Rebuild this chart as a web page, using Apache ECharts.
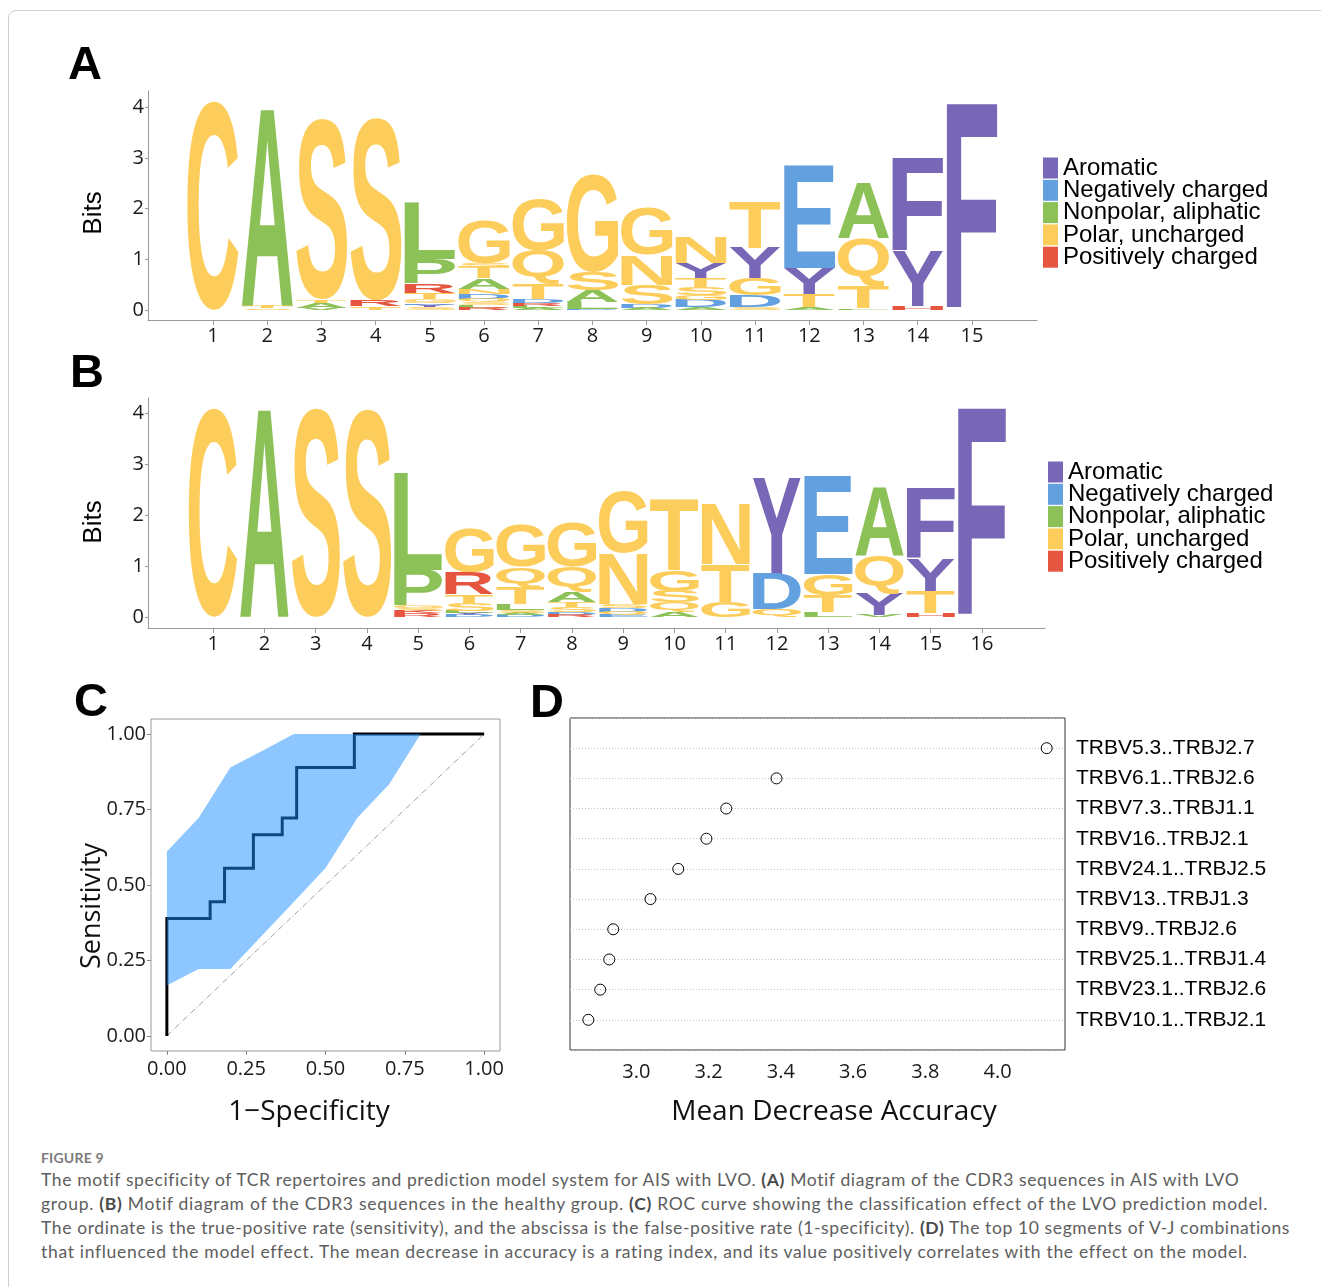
<!DOCTYPE html>
<html><head><meta charset="utf-8">
<script src="https://cdn.jsdelivr.net/npm/echarts@6/dist/echarts.min.js"></script>
<style>
html,body{margin:0;padding:0;background:#fff;}
#frame{position:absolute;left:8px;top:10px;width:1400px;height:1400px;border:1px solid #cfcfcf;border-radius:8px;box-sizing:border-box;}
#chart{position:absolute;left:0;top:0;width:1321px;height:1140px;}
#cap{position:absolute;left:41px;top:1148px;font-family:Lato,"Open Sans",sans-serif;color:#5e5e5e;}
#fig{font-size:14px;font-weight:700;color:#7c7c7c;line-height:20px;height:20px;letter-spacing:0.2px;}
.ln{font-size:17.5px;line-height:24px;white-space:nowrap;}
.ln b{color:#4a4a4a;}
</style></head>
<body>
<div id="frame"></div>
<div id="chart"></div>
<div id="cap">
<div id="fig">FIGURE 9</div>
<div class="ln" data-w="1199">The motif specificity of TCR repertoires and prediction model system for AIS with LVO. <b>(A)</b> Motif diagram of the CDR3 sequences in AIS with LVO</div>
<div class="ln" data-w="1227">group. <b>(B)</b> Motif diagram of the CDR3 sequences in the healthy group. <b>(C)</b> ROC curve showing the classification effect of the LVO prediction model.</div>
<div class="ln" data-w="1250">The ordinate is the true-positive rate (sensitivity), and the abscissa is the false-positive rate (1-specificity). <b>(D)</b> The top 10 segments of V-J combinations</div>
<div class="ln" data-w="1206">that influenced the model effect. The mean decrease in accuracy is a rating index, and its value positively correlates with the effect on the model.</div>
</div>
<script>
// ---------- DATA ----------
const classNames = ['Aromatic','Negatively charged','Nonpolar, aliphatic','Polar, uncharged','Positively charged'];
const classColors = ['#7866B6','#63A0E0','#8BC157','#FDCD5C','#E5553F'];
const letterClass = {F:0,W:0,Y:0,D:1,E:1,A:2,V:2,L:2,I:2,P:2,M:2,G:3,S:3,T:3,C:3,N:3,Q:3,R:4,K:4,H:4};

// Panel A: letters per position (bottom -> top) and their heights in bits
const lettersA = ['C','STA','VATS','TGRS','SYEQGTRPL','RLSQDNATSG','ALRDTQG','DLASG','ADSNG','ADGSTYN','SDGYT','ATYE','LTQA','HYF','F'];
const bitsA = [
  [4.12],
  [0.03,0.04,3.94],
  [0.04,0.1,0.06,3.57],
  [0.04,0.03,0.12,3.6],
  [0.05,0.04,0.03,0.04,0.06,0.12,0.18,0.48,1.11],
  [0.04,0.05,0.06,0.07,0.1,0.09,0.21,0.22,0.08,0.86],
  [0.04,0.04,0.06,0.08,0.3,0.64,1.0],
  [0.02,0.14,0.22,0.36,1.93],
  [0.04,0.08,0.38,0.58,0.94],
  [0.06,0.14,0.1,0.15,0.18,0.3,0.52],
  [0.06,0.22,0.34,0.6,0.92],
  [0.06,0.26,0.5,2.02],
  [0.03,0.43,0.96,1.1],
  [0.08,1.08,1.85],
  [4.07]
];
// Panel B
const lettersB = ['C','A','S','S','RKSGPL','DYLSTRG','DASLTQG','RDSTAQG','EQDSNG','AQSGT','GTN','QDY','LTGE','VYQA','HTYF','F'];
const bitsB = [
  [4.1],
  [4.12],
  [4.1],
  [4.08],
  [0.08,0.04,0.06,0.04,0.7,1.9],
  [0.04,0.04,0.04,0.14,0.18,0.42,0.88],
  [0.04,0.04,0.06,0.12,0.32,0.4,0.82],
  [0.04,0.06,0.1,0.1,0.2,0.48,0.88],
  [0.04,0.06,0.08,0.08,1.0,1.22],
  [0.1,0.18,0.22,0.42,1.4],
  [0.3,0.74,1.2],
  [0.16,0.69,1.88],
  [0.1,0.32,0.42,1.94],
  [0.04,0.42,0.76,1.35],
  [0.07,0.42,0.66,1.38],
  [4.1]
];
const bitsTicks = [0,1,2,3,4];

// Panel C: ROC staircase and confidence band
const rocFpr = [0,0,0.1364,0.1364,0.1818,0.1818,0.2727,0.2727,0.3636,0.3636,0.4091,0.4091,0.5909,0.5909,1.0];
const rocTpr = [0,0.3889,0.3889,0.4444,0.4444,0.5556,0.5556,0.6667,0.6667,0.7222,0.7222,0.8889,0.8889,1.0,1.0];
const bandFpr = [0,0.1,0.2,0.3,0.4,0.5,0.6,0.7,0.8];
const bandUpper = [0.611,0.722,0.889,0.944,1,1,1,1,1];
const bandLower = [0.167,0.222,0.222,0.333,0.444,0.556,0.722,0.833,1];
const diagX = [0,1];
const diagY = [0,1];
const rocTicks = [0,0.25,0.5,0.75,1];

// Panel D: top 10 V-J combinations (top -> bottom)
const vjNames = ['TRBV5.3..TRBJ2.7','TRBV6.1..TRBJ2.6','TRBV7.3..TRBJ1.1','TRBV16..TRBJ2.1','TRBV24.1..TRBJ2.5','TRBV13..TRBJ1.3','TRBV9..TRBJ2.6','TRBV25.1..TRBJ1.4','TRBV23.1..TRBJ2.6','TRBV10.1..TRBJ2.1'];
const vjMDA = [4.136,3.388,3.249,3.194,3.116,3.039,2.936,2.925,2.900,2.867];
const mdaTicks = [3.0,3.2,3.4,3.6,3.8,4.0];

// ---------- LETTER METRICS ----------
const LFONT = 'bold 100px "Liberation Sans"';
const mc = document.createElement('canvas').getContext('2d');
mc.font = LFONT; mc.textBaseline = 'middle'; mc.textAlign = 'left';
const metrics = {};
Object.keys(letterClass).forEach(ch => {
  const m = mc.measureText(ch);
  metrics[ch] = {L:m.actualBoundingBoxLeft, R:m.actualBoundingBoxRight, A:m.actualBoundingBoxAscent, D:m.actualBoundingBoxDescent};
});
const LW = 0.95;

function logoSeries(letters, bits, ax) {
  const per = classNames.map(() => ({data:[], chars:[]}));
  letters.forEach((str, i) => {
    let y = 0;
    for (let k = 0; k < str.length; k++) {
      const ch = str[k], h = bits[i][k], c = letterClass[ch];
      per[c].data.push([i + 1, y, y + h]);
      per[c].chars.push(ch);
      y += h;
    }
  });
  return per.map((p, c) => ({
    type:'custom', name:classNames[c], xAxisIndex:ax, yAxisIndex:ax, silent:true,
    itemStyle:{color:classColors[c]}, encode:{x:0, y:[1,2]}, data:p.data,
    renderItem:(params, api) => {
      const ch = p.chars[params.dataIndex];
      const xc = api.value(0), y0 = api.value(1), y1 = api.value(2);
      const bl = api.coord([xc - LW/2, y0]);
      const tr = api.coord([xc + LW/2, y1]);
      const m = metrics[ch];
      const sx = (tr[0] - bl[0]) / (m.L + m.R);
      const sy = Math.max(bl[1] - tr[1], 0.01) / (m.A + m.D);
      return {type:'text', x: bl[0] + sx*m.L, y: tr[1] + sy*m.A, scaleX:sx, scaleY:sy,
        style:{text:ch, x:0, y:0, font:LFONT, fill:classColors[c], align:'left', verticalAlign:'middle'}};
    }
  }));
}

const TICKF = 'Open Sans';
const axisGray = '#9a9a9a';
function logoAxes(xmin, xmax, n, ymin, ymax, idx) {
  const pos = Array.from({length:n}, (_, i) => i + 1);
  return {
    x:{type:'value', gridIndex:idx, min:xmin, max:xmax, splitLine:{show:false},
      axisLine:{show:true, onZero:false, lineStyle:{color:axisGray, width:1}},
      axisTick:{show:true, customValues:pos, length:5, lineStyle:{color:axisGray}},
      axisLabel:{customValues:pos, fontSize:20, fontFamily:TICKF, color:'#1a1a1a', margin:6}},
    y:{type:'value', gridIndex:idx, min:ymin, max:ymax, splitLine:{show:false},
      axisLine:{show:true, onZero:false, lineStyle:{color:axisGray, width:1}},
      axisTick:{show:true, customValues:bitsTicks, length:3, lineStyle:{color:axisGray}},
      axisLabel:{customValues:bitsTicks, fontSize:20, fontFamily:TICKF, color:'#1a1a1a', margin:4}}
  };
}
const axA = logoAxes(-0.2, 16.2, 15, -0.2, 4.32, 0);
const axB = logoAxes(-0.27, 17.23, 16, -0.22, 4.3, 1);

const legendCommon = {orient:'vertical', icon:'rect', itemWidth:15, itemHeight:21, itemGap:-1.7, padding:0,
  selectedMode:false, data:classNames,
  textStyle:{fontSize:24, fontFamily:'Liberation Sans', color:'#000', lineHeight:21}};

const option = {
  animation:false,
  grid:[
    {left:148, top:91, width:889, height:229},
    {left:148, top:398, width:897, height:230},
    {left:151, top:719, width:349, height:332, show:true, borderColor:'#999', borderWidth:1, backgroundColor:'transparent'},
    {left:570, top:718, width:495, height:332, show:true, borderColor:'#333', borderWidth:1, backgroundColor:'transparent'}
  ],
  legend:[
    Object.assign({left:1043, top:156}, legendCommon),
    Object.assign({left:1048, top:460}, legendCommon)
  ],
  xAxis:[axA.x, axB.x,
    {type:'value', gridIndex:2, min:-0.05, max:1.05, splitLine:{show:false},
      axisLine:{show:false, onZero:false},
      axisTick:{show:true, customValues:rocTicks, length:4, lineStyle:{color:'#888'}},
      axisLabel:{customValues:rocTicks, formatter:v => v.toFixed(2), fontSize:20, fontFamily:TICKF, color:'#1a1a1a', margin:8}},
    {type:'value', gridIndex:3, min:2.8163, max:4.1867, splitLine:{show:false},
      axisLine:{show:false, onZero:false}, axisTick:{show:false},
      axisLabel:{customValues:mdaTicks, formatter:v => v.toFixed(1), fontSize:20, fontFamily:TICKF, color:'#1a1a1a', margin:12}}
  ],
  yAxis:[axA.y, axB.y,
    {type:'value', gridIndex:2, min:-0.05, max:1.05, splitLine:{show:false},
      axisLine:{show:false, onZero:false},
      axisTick:{show:true, customValues:rocTicks, length:4, lineStyle:{color:'#888'}},
      axisLabel:{customValues:rocTicks, formatter:v => v.toFixed(2), fontSize:20, fontFamily:TICKF, color:'#1a1a1a', margin:5}},
    {type:'value', gridIndex:3, position:'right', min:0, max:11, interval:1,
      axisLine:{show:false, onZero:false}, axisTick:{show:false},
      splitLine:{show:true, lineStyle:{color:'#c4c4c4', type:[1,2], width:1}},
      axisLabel:{formatter:v => (v >= 1 && v <= 10) ? vjNames[10 - v] : '', fontSize:21, fontFamily:'Liberation Sans', color:'#000', margin:11}}
  ],
  series:[].concat(
    logoSeries(lettersA, bitsA, 0),
    logoSeries(lettersB, bitsB, 1),
    [
      {type:'line', xAxisIndex:2, yAxisIndex:2, silent:true, symbol:'none', z:1,
        data:diagX.map((x, i) => [x, diagY[i]]),
        lineStyle:{color:'#a0a0a0', width:1, type:[6,2,1,2]}},
      {type:'line', xAxisIndex:2, yAxisIndex:2, silent:true, symbol:'none', z:2,
        data:rocFpr.map((x, i) => [x, rocTpr[i]]),
        lineStyle:{color:'#000', width:3, join:'miter', cap:'butt'}},
      {type:'custom', xAxisIndex:2, yAxisIndex:2, silent:true, z:3, data:[[0,0]], encode:{x:0, y:1},
        renderItem:(params, api) => {
          const pts = [];
          bandFpr.forEach((x, i) => pts.push(api.coord([x, bandUpper[i]])));
          for (let i = bandFpr.length - 1; i >= 0; i--) pts.push(api.coord([bandFpr[i], bandLower[i]]));
          return {type:'polygon', shape:{points:pts}, style:{fill:'rgba(30,144,255,0.5)'}};
        }},
      {type:'scatter', xAxisIndex:3, yAxisIndex:3, silent:true, symbol:'circle', symbolSize:11,
        data:vjMDA.map((v, i) => [v, 10 - i]),
        itemStyle:{color:'rgba(255,255,255,0)', borderColor:'#000', borderWidth:1, opacity:1}}
    ]
  ),
  graphic:[
    {type:'text', x:68, y:66, style:{text:'A', font:'bold 47px "Liberation Sans"', fill:'#000', align:'left', verticalAlign:'middle'}},
    {type:'text', x:70, y:374, style:{text:'B', font:'bold 47px "Liberation Sans"', fill:'#000', align:'left', verticalAlign:'middle'}},
    {type:'text', x:74, y:703, style:{text:'C', font:'bold 47px "Liberation Sans"', fill:'#000', align:'left', verticalAlign:'middle'}},
    {type:'text', x:530, y:704, style:{text:'D', font:'bold 47px "Liberation Sans"', fill:'#000', align:'left', verticalAlign:'middle'}},
    {type:'text', x:94, y:213, rotation:Math.PI/2, style:{text:'Bits', font:'26px "Liberation Sans"', fill:'#000', align:'center', verticalAlign:'middle'}},
    {type:'text', x:94, y:522, rotation:Math.PI/2, style:{text:'Bits', font:'26px "Liberation Sans"', fill:'#000', align:'center', verticalAlign:'middle'}},
    {type:'text', x:92, y:906, rotation:Math.PI/2, style:{text:'Sensitivity', font:'27px "Open Sans"', fill:'#111', align:'center', verticalAlign:'middle'}},
    {type:'text', x:309, y:1112, style:{text:'1\u2212Specificity', font:'28px "Open Sans"', fill:'#111', align:'center', verticalAlign:'middle'}},
    {type:'text', x:834, y:1112, style:{text:'Mean Decrease Accuracy', font:'28px "Open Sans"', fill:'#111', align:'center', verticalAlign:'middle'}}
  ]
};

const chart = echarts.init(document.getElementById('chart'), null, {renderer:'canvas'});
chart.setOption(option);

// fit caption lines to the reference widths
document.querySelectorAll('.ln').forEach(el => {
  const target = +el.dataset.w;
  el.style.display = 'inline-block';
  const w = el.getBoundingClientRect().width;
  const n = el.textContent.length;
  el.style.letterSpacing = ((target - w) / n).toFixed(3) + 'px';
  el.style.display = 'block';
});
</script>
</body></html>
